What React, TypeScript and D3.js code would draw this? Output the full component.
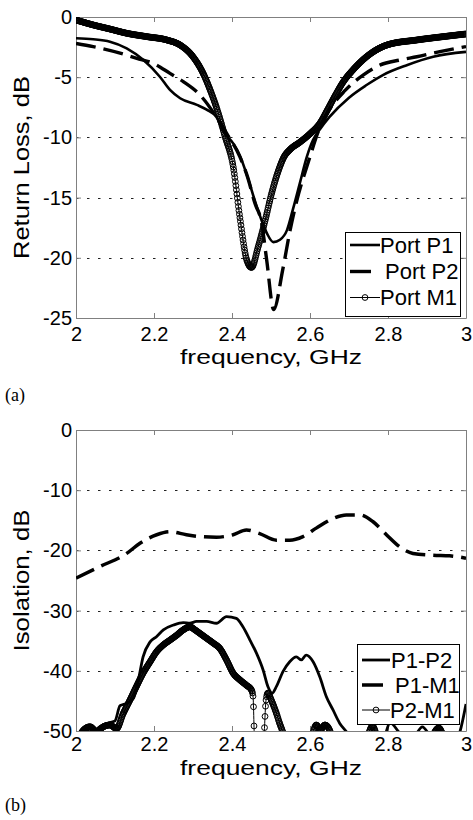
import React, { useEffect, useRef } from 'react';
import * as d3 from 'd3';

const FONT = '"Liberation Sans", Arial, Helvetica, sans-serif';
const SERIF = '"Liberation Serif", "Times New Roman", serif';

// shared x axis
const freqTicks = [2, 2.2, 2.4, 2.6, 2.8, 3];

// (a) return loss
const lossTicks = [0, -5, -10, -15, -20, -25];
const p1Freq = [2.0, 2.044, 2.087, 2.13, 2.173, 2.215, 2.241, 2.267, 2.31, 2.335, 2.36, 2.38, 2.403, 2.42, 2.44, 2.46, 2.476, 2.49, 2.506, 2.523, 2.541, 2.556, 2.574, 2.592, 2.608, 2.626, 2.65, 2.70, 2.745, 2.788, 2.848, 2.916, 3.0];
const p1Loss = [-1.77, -1.85, -2.05, -2.6, -3.57, -4.96, -6.06, -6.75, -7.3, -7.7, -8.3, -9.6, -10.5, -11.5, -13.3, -15.4, -16.9, -18.0, -18.7, -18.5, -17.7, -16.0, -13.8, -11.6, -10.2, -9.3, -8.3, -6.7, -5.65, -4.8, -4.0, -3.3, -2.9];
const p2Freq = [2.0, 2.044, 2.113, 2.156, 2.198, 2.241, 2.275, 2.318, 2.36, 2.387, 2.42, 2.44, 2.459, 2.476, 2.489, 2.507, 2.53, 2.549, 2.562, 2.60, 2.62, 2.644, 2.69, 2.737, 2.779, 2.831, 2.874, 2.933, 3.0];
const p2Loss = [-2.2, -2.46, -3.0, -3.43, -3.85, -4.68, -5.37, -6.48, -8.3, -9.7, -11.6, -13.3, -15.5, -17.1, -20.2, -24.3, -21.0, -17.7, -15.8, -11.6, -9.6, -8.0, -6.1, -4.8, -4.0, -3.57, -3.3, -2.88, -2.46];
const m1Freq = [2.0, 2.044, 2.087, 2.13, 2.181, 2.233, 2.267, 2.30, 2.326, 2.344, 2.36, 2.382, 2.403, 2.42, 2.438, 2.45, 2.467, 2.485, 2.502, 2.523, 2.532, 2.549, 2.574, 2.60, 2.626, 2.645, 2.665, 2.685, 2.71, 2.745, 2.797, 2.874, 2.942, 3.0];
const m1Loss = [-0.25, -0.66, -1.0, -1.35, -1.63, -1.91, -2.33, -3.3, -4.68, -6.06, -7.5, -9.9, -12.4, -16.6, -20.2, -20.8, -19.1, -16.9, -14.6, -12.4, -11.7, -11.0, -10.4, -9.7, -8.8, -7.7, -6.5, -5.4, -4.4, -3.3, -2.33, -1.91, -1.63, -1.41];
const lossLegend = ['Port P1', 'Port P2', 'Port M1'];

// (b) isolation
const isoTicks = [0, -10, -20, -30, -40, -50];
const p1p2Freq = [2.0, 2.02, 2.04, 2.061, 2.087, 2.1, 2.113, 2.13, 2.147, 2.16, 2.172, 2.19, 2.207, 2.224, 2.25, 2.275, 2.292, 2.309, 2.335, 2.36, 2.386, 2.411, 2.428, 2.446, 2.463, 2.48, 2.492, 2.503, 2.514, 2.531, 2.548, 2.565, 2.578, 2.59, 2.608, 2.625, 2.642, 2.659, 2.676, 2.693, 2.72, 2.79, 2.805, 2.83, 2.86, 2.888, 2.91, 2.96, 2.985, 3.0];
const p1p2Iso = [-51, -49.8, -50.2, -49.3, -48.6, -48.3, -45.8, -45.4, -44.6, -41.5, -37.7, -35.2, -34.3, -33.2, -32.4, -32.0, -32.1, -31.8, -31.8, -32.1, -31.0, -31.3, -32.7, -34.9, -37.1, -39.9, -42.6, -43.7, -42.6, -40.1, -38.5, -37.7, -38.2, -37.4, -38.5, -41.0, -44.3, -46.5, -48.7, -50.1, -53, -51, -48.6, -50.3, -51.5, -49.3, -51, -53, -50, -45.5];
const p1m1Freq = [2.0, 2.061, 2.13, 2.164, 2.207, 2.241, 2.283, 2.318, 2.36, 2.403, 2.437, 2.471, 2.514, 2.548, 2.582, 2.616, 2.659, 2.693, 2.727, 2.761, 2.796, 2.83, 2.864, 2.915, 2.958, 3.0];
const p1m1Iso = [-24.6, -22.7, -20.5, -18.8, -17.4, -16.9, -17.4, -17.7, -17.8, -17.4, -16.6, -17.2, -18.3, -18.3, -17.7, -16.3, -14.7, -14.1, -14.1, -15.2, -17.4, -19.4, -20.5, -20.8, -20.9, -21.3];
const p2m1Freq = [2.0, 2.02, 2.036, 2.053, 2.07, 2.087, 2.104, 2.121, 2.138, 2.155, 2.172, 2.19, 2.207, 2.224, 2.241, 2.258, 2.275, 2.292, 2.305, 2.318, 2.335, 2.352, 2.369, 2.386, 2.403, 2.42, 2.437, 2.45, 2.454, 2.458, 2.47, 2.482, 2.487, 2.492, 2.501, 2.514, 2.522, 2.531, 2.55, 2.6, 2.616, 2.627, 2.638, 2.65, 2.665, 2.74, 2.76, 2.78, 2.9, 2.93, 2.95, 3.0];
const p2m1Iso = [-52, -49.8, -49.3, -50.1, -49.3, -49.0, -49.6, -47.1, -44.9, -42.6, -40.4, -38.5, -36.8, -35.7, -34.9, -34.1, -33.2, -32.7, -33.2, -33.8, -34.6, -35.4, -36.3, -38.2, -40.4, -41.5, -42.4, -43.2, -44.3, -52, -56, -51, -45, -43.7, -44.9, -47.1, -48.7, -50.3, -55, -52, -49, -49.8, -49, -49.8, -53, -52, -49.2, -52, -52, -49.5, -52, -54];
const isoLegend = ['P1-P2', 'P1-M1', 'P2-M1'];

const solid = { width: 2.6, dash: null, markers: false };
const dashed = { width: 3.4, dash: '20,8', markers: false };
const circles = { width: 1, dash: null, markers: true };

const panels = [
  {
    left: 76, right: 466, top: 17, bottom: 318,
    yTicks: lossTicks, yTitle: 'Return Loss, dB', yTitleLen: 183, xPad: 8.5, titleY: 364,
    series: [
      { freq: p1Freq, vals: p1Loss, style: solid },
      { freq: p2Freq, vals: p2Loss, style: dashed },
      { freq: m1Freq, vals: m1Loss, style: circles },
    ],
    legend: { labels: lossLegend, x: 345, y: 232, w: 115, h: 84, rows: [245, 271.5, 297.5], textX: [380, 385, 380], lineX: 350, lineEnd: 380 },
  },
  {
    left: 76, right: 466, top: 430, bottom: 731,
    yTicks: isoTicks, yTitle: 'Isolation, dB', yTitleLen: 142, xPad: 5.5, titleY: 775,
    series: [
      { freq: p1p2Freq, vals: p1p2Iso, style: { ...solid, width: 2.8 } },
      { freq: p1m1Freq, vals: p1m1Iso, style: { ...dashed, width: 3.5 } },
      { freq: p2m1Freq, vals: p2m1Iso, style: circles },
    ],
    legend: { labels: isoLegend, x: 357, y: 644, w: 102, h: 80, rows: [660, 685, 710], textX: [391, 395, 390], lineX: 362, lineEnd: 390 },
  },
];

// circle markers like a densely sampled trace: one every half pixel of x along the drawn path
function markerPoints(node, dx) {
  const len = node.getTotalLength();
  const pts = [];
  let nextX = -Infinity;
  for (let s = 0; s <= len; s += 0.2) {
    const p = node.getPointAtLength(s);
    if (p.x >= nextX) {
      pts.push([p.x, p.y]);
      nextX = p.x + dx;
    }
  }
  return pts;
}

function drawPanel(svg, p, id) {
  const x = d3.scaleLinear().domain([2, 3]).range([p.left, p.right]);
  const y = d3.scaleLinear().domain([p.yTicks[p.yTicks.length - 1], p.yTicks[0]]).range([p.bottom, p.top]);

  svg.append('clipPath').attr('id', id)
    .append('rect')
    .attr('x', p.left).attr('y', p.top)
    .attr('width', p.right - p.left).attr('height', p.bottom - p.top);

  // dotted horizontal grid
  svg.append('g').selectAll('line').data(p.yTicks).join('line')
    .attr('x1', p.left).attr('x2', p.right)
    .attr('y1', d => Math.round(y(d)) + 0.5).attr('y2', d => Math.round(y(d)) + 0.5)
    .attr('stroke', '#222').attr('stroke-width', 1).attr('stroke-dasharray', '2.5,8.5');

  const styleAxis = (g, labels) => {
    g.attr('font-size', 20).attr('font-family', FONT);
    g.select('.domain').attr('stroke', '#808080');
    g.selectAll('.tick line').attr('stroke', '#808080');
    g.selectAll('.tick text').attr('fill', '#000');
    if (!labels) g.selectAll('.tick text').remove();
  };

  svg.append('g').attr('transform', `translate(0,${p.bottom})`)
    .call(d3.axisBottom(x).tickValues(freqTicks).tickSizeInner(-5).tickSizeOuter(0).tickPadding(p.xPad).tickFormat(d => String(d)))
    .call(g => styleAxis(g, true));
  svg.append('g').attr('transform', `translate(0,${p.top})`)
    .call(d3.axisTop(x).tickValues(freqTicks).tickSizeInner(-5).tickSizeOuter(0))
    .call(g => styleAxis(g, false));
  svg.append('g').attr('transform', `translate(${p.left},0)`)
    .call(d3.axisLeft(y).tickValues(p.yTicks).tickSizeInner(-5).tickSizeOuter(0).tickPadding(4).tickFormat(d => String(d)))
    .call(g => styleAxis(g, true));
  svg.append('g').attr('transform', `translate(${p.right},0)`)
    .call(d3.axisRight(y).tickValues(p.yTicks).tickSizeInner(-5).tickSizeOuter(0))
    .call(g => styleAxis(g, false));

  // series
  const plot = svg.append('g').attr('clip-path', `url(#${id})`);
  p.series.forEach(s => {
    const line = d3.line()
      .x((d, i) => x(s.freq[i]))
      .y(d => y(d))
      .curve(d3.curveMonotoneX);
    const path = plot.append('path')
      .attr('d', line(s.vals))
      .attr('fill', 'none')
      .attr('stroke', '#000')
      .attr('stroke-width', s.style.width)
      .attr('stroke-linejoin', 'round')
      .attr('stroke-dasharray', s.style.dash);
    if (s.style.markers) {
      const pts = markerPoints(path.node(), 0.5);
      plot.append('g').selectAll('circle').data(pts).join('circle')
        .attr('cx', d => d[0]).attr('cy', d => d[1]).attr('r', 2.9)
        .attr('fill', 'none').attr('stroke', '#000').attr('stroke-width', 1);
    }
  });

  // axis titles
  svg.append('text')
    .attr('x', (p.left + p.right) / 2).attr('y', p.titleY)
    .attr('text-anchor', 'middle').attr('font-family', FONT).attr('font-size', 21)
    .attr('textLength', 182).attr('lengthAdjust', 'spacingAndGlyphs')
    .text('frequency, GHz');
  svg.append('text')
    .attr('transform', `translate(29,${(p.top + p.bottom) / 2}) rotate(-90)`)
    .attr('text-anchor', 'middle').attr('font-family', FONT).attr('font-size', 22)
    .attr('textLength', p.yTitleLen).attr('lengthAdjust', 'spacingAndGlyphs')
    .text(p.yTitle);

  // legend
  const L = p.legend;
  const lg = svg.append('g');
  lg.append('rect').attr('x', L.x + 0.5).attr('y', L.y + 0.5).attr('width', L.w).attr('height', L.h)
    .attr('fill', '#fff').attr('stroke', '#000').attr('stroke-width', 1);
  p.series.forEach((s, i) => {
    const cy = L.rows[i];
    const end = s.style.dash ? L.lineX + 21 : L.lineEnd;
    lg.append('line').attr('x1', L.lineX).attr('x2', end).attr('y1', cy).attr('y2', cy)
      .attr('stroke', '#000').attr('stroke-width', s.style.width);
    if (s.style.markers) {
      lg.append('circle').attr('cx', (L.lineX + L.lineEnd) / 2).attr('cy', cy).attr('r', 2.9)
        .attr('fill', 'none').attr('stroke', '#000').attr('stroke-width', 1);
    }
    lg.append('text').attr('x', L.textX[i]).attr('y', cy + 7.5)
      .attr('font-family', FONT).attr('font-size', 22).text(L.labels[i]);
  });
}

const App = () => {
  const ref = useRef(null);

  useEffect(() => {
    const svg = d3.select(ref.current);
    svg.selectAll('*').remove();
    panels.forEach((p, i) => drawPanel(svg, p, `clip${i}`));
    svg.append('text').attr('x', 5).attr('y', 401).attr('font-family', SERIF).attr('font-size', 18).text('(a)');
    svg.append('text').attr('x', 5).attr('y', 811).attr('font-family', SERIF).attr('font-size', 18).text('(b)');
  }, []);

  return (
    <svg
      ref={ref}
      width={473}
      height={820}
      style={{ position: 'absolute', left: 0, top: 0, background: '#fff' }}
    />
  );
};

export default App;
